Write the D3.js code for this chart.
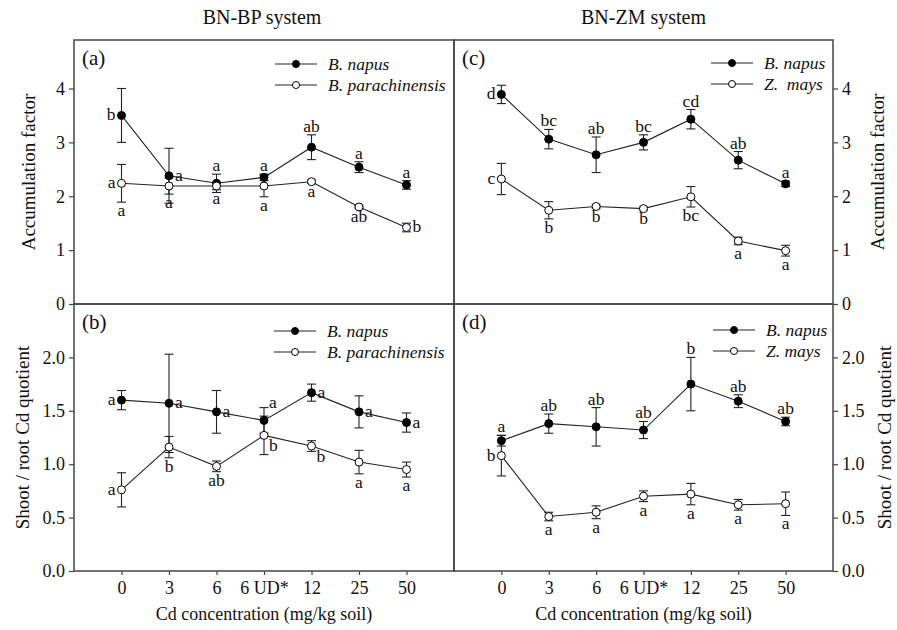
<!DOCTYPE html>
<html>
<head>
<meta charset="utf-8">
<script src="https://cdn.jsdelivr.net/npm/d3@7"></script>
<style>
  body { margin: 0; background: #fff; }
  text { font-family: "Liberation Serif", "Times New Roman", serif; fill: #111; white-space: pre; }
</style>
</head>
<body>
<svg></svg>
<script>
// categories on x
var categories = ["0", "3", "6", "6 UD*", "12", "25", "50"];

// (a) accumulation factor, BN-BP system
var accNapusBP = [3.5, 2.38, 2.24, 2.35, 2.91, 2.54, 2.21];
var accNapusBPErr = [0.5, 0.51, 0.17, 0.06, 0.23, 0.1, 0.08];
var accNapusBPLet = ["b", "a", "a", "a", "ab", "a", "a"];
var accNapusBPPos = ["l", "r", "t", "t", "t", "t", "t"];
var accParaBP = [2.24, 2.19, 2.19, 2.19, 2.27, 1.8, 1.42];
var accParaBPErr = [0.35, 0.15, 0.07, 0.2, 0.03, 0.02, 0.08];
var accParaBPLet = ["a", "a", "a", "a", "a", "ab", "b"];
var accParaBPPos = ["l,b", "b", "b", "b", "b", "b", "r"];

// (c) accumulation factor, BN-ZM system
var accNapusZM = [3.89, 3.06, 2.77, 3.0, 3.43, 2.67, 2.23];
var accNapusZMErr = [0.17, 0.18, 0.33, 0.14, 0.18, 0.16, 0.05];
var accNapusZMLet = ["d", "bc", "ab", "bc", "cd", "ab", "a"];
var accNapusZMPos = ["l", "t", "t", "t", "t", "t", "t"];
var accMaysZM = [2.32, 1.74, 1.81, 1.77, 1.99, 1.17, 0.99];
var accMaysZMErr = [0.29, 0.16, 0.03, 0.03, 0.19, 0.07, 0.1];
var accMaysZMLet = ["c", "b", "b", "b", "bc", "a", "a"];
var accMaysZMPos = ["l", "b", "b", "b", "b", "b", "b"];

// (b) shoot / root quotient, BN-BP system
var quoNapusBP = [1.6, 1.57, 1.49, 1.41, 1.67, 1.49, 1.39];
var quoNapusBPErr = [0.09, 0.46, 0.2, 0.12, 0.08, 0.15, 0.09];
var quoNapusBPLet = ["a", "a", "a", "a", "a", "a", "a"];
var quoNapusBPPos = ["l", "r", "r", "tr", "r", "r", "r"];
var quoParaBP = [0.76, 1.16, 0.98, 1.27, 1.17, 1.02, 0.95];
var quoParaBPErr = [0.16, 0.1, 0.05, 0.18, 0.05, 0.11, 0.07];
var quoParaBPLet = ["a", "b", "ab", "b", "b", "a", "a"];
var quoParaBPPos = ["l", "b", "b", "br", "br", "b", "b"];

// (d) shoot / root quotient, BN-ZM system
var quoNapusZM = [1.22, 1.38, 1.35, 1.32, 1.75, 1.59, 1.4];
var quoNapusZMErr = [0.05, 0.09, 0.18, 0.08, 0.25, 0.06, 0.04];
var quoNapusZMLet = ["a", "ab", "ab", "ab", "b", "ab", "ab"];
var quoNapusZMPos = ["t", "t", "t", "t", "t", "t", "t"];
var quoMaysZM = [1.08, 0.51, 0.55, 0.7, 0.72, 0.62, 0.63];
var quoMaysZMErr = [0.19, 0.04, 0.06, 0.05, 0.1, 0.05, 0.11];
var quoMaysZMLet = ["b", "a", "a", "a", "a", "a", "a"];
var quoMaysZMPos = ["l", "b", "b", "b", "b", "b", "b"];

var accTicks = [0, 1, 2, 3, 4];
var quoTicks = [0, 0.5, 1.0, 1.5, 2.0];

var width = 897, height = 630;
var xLeft = 74, xMid = 454, xRight = 833, yTop = 40, yMiddle = 304, yBottom = 571;

var svg = d3.select("svg").attr("width", width).attr("height", height);

function serie(vals, errs, lets, pos, name, filled) {
	return vals.map(function(v, i) {
		return { i: i, v: v, e: errs[i], l: lets[i], p: pos[i], name: name, filled: filled };
	});
}

var panels = [
	{ tag: "(a)", x0: xLeft, x1: xMid, y0: yTop, y1: yMiddle, max: 4.9, ticks: accTicks, fmt: d3.format("d"), side: "left", xaxis: false,
	  legX: 275, legY: 64,
	  series: [serie(accNapusBP, accNapusBPErr, accNapusBPLet, accNapusBPPos, "B. napus", true),
	           serie(accParaBP, accParaBPErr, accParaBPLet, accParaBPPos, "B. parachinensis", false)] },
	{ tag: "(b)", x0: xLeft, x1: xMid, y0: yMiddle, y1: yBottom, max: 2.5, ticks: quoTicks, fmt: d3.format(".1f"), side: "left", xaxis: true,
	  legX: 274, legY: 331,
	  series: [serie(quoNapusBP, quoNapusBPErr, quoNapusBPLet, quoNapusBPPos, "B. napus", true),
	           serie(quoParaBP, quoParaBPErr, quoParaBPLet, quoParaBPPos, "B. parachinensis", false)] },
	{ tag: "(c)", x0: xMid, x1: xRight, y0: yTop, y1: yMiddle, max: 4.9, ticks: accTicks, fmt: d3.format("d"), side: "right", xaxis: false,
	  legX: 711, legY: 63,
	  series: [serie(accNapusZM, accNapusZMErr, accNapusZMLet, accNapusZMPos, "B. napus", true),
	           serie(accMaysZM, accMaysZMErr, accMaysZMLet, accMaysZMPos, "Z.  mays", false)] },
	{ tag: "(d)", x0: xMid, x1: xRight, y0: yMiddle, y1: yBottom, max: 2.5, ticks: quoTicks, fmt: d3.format(".1f"), side: "right", xaxis: true,
	  legX: 713, legY: 330,
	  series: [serie(quoNapusZM, quoNapusZMErr, quoNapusZMLet, quoNapusZMPos, "B. napus", true),
	           serie(quoMaysZM, quoMaysZMErr, quoMaysZMLet, quoMaysZMPos, "Z. mays", false)] }
];

var ink = "#222";

panels.forEach(function(p) {
	var x = d3.scaleLinear().domain([-1, categories.length]).range([p.x0, p.x1]);
	var y = d3.scaleLinear().domain([0, p.max]).range([p.y1, p.y0]);
	var g = svg.append("g");

	// y axis
	var yAxis = (p.side == "left" ? d3.axisLeft(y) : d3.axisRight(y))
		.tickValues(p.ticks).tickFormat(p.fmt).tickSize(5).tickPadding(4);
	var ya = g.append("g")
		.attr("transform", "translate(" + (p.side == "left" ? p.x0 : p.x1) + ",0)")
		.call(yAxis);
	ya.select(".domain").remove();
	ya.selectAll("line").attr("stroke", "#444").attr("stroke-width", 1.2);
	ya.selectAll("text").attr("font-size", "18px").attr("font-family", "Liberation Serif").attr("fill", "#111");

	// x axis
	if (p.xaxis) {
		var xAxis = d3.axisBottom(x)
			.tickValues(d3.range(categories.length))
			.tickFormat(function(i) { return categories[i]; })
			.tickSize(4).tickPadding(6);
		var xa = g.append("g")
			.attr("transform", "translate(0," + p.y1 + ")")
			.call(xAxis);
		xa.select(".domain").remove();
		xa.selectAll("line").attr("stroke", "#444").attr("stroke-width", 1.2);
		xa.selectAll("text").attr("font-size", "18px").attr("font-family", "Liberation Serif").attr("fill", "#111");
	}

	// frame
	g.append("rect")
		.attr("x", p.x0).attr("y", p.y0)
		.attr("width", p.x1 - p.x0).attr("height", p.y1 - p.y0)
		.attr("fill", "none").attr("stroke", "#444").attr("stroke-width", 1.5);

	g.append("text")
		.attr("x", p.x0 + 8).attr("y", p.y0 + 25)
		.attr("font-size", "21px")
		.text(p.tag);

	var line = d3.line().x(function(d) { return x(d.i); }).y(function(d) { return y(d.v); });

	p.series.forEach(function(s) {
		g.append("path")
			.datum(s)
			.attr("d", line)
			.attr("fill", "none").attr("stroke", ink).attr("stroke-width", 1.1);

		var eb = g.append("g").selectAll("g").data(s).enter().append("g");
		eb.append("line")
			.attr("x1", function(d) { return x(d.i); }).attr("x2", function(d) { return x(d.i); })
			.attr("y1", function(d) { return y(d.v - d.e); }).attr("y2", function(d) { return y(d.v + d.e); })
			.attr("stroke", ink).attr("stroke-width", 1.1);
		[-1, 1].forEach(function(sg) {
			eb.append("line")
				.attr("x1", function(d) { return x(d.i) - 4.5; }).attr("x2", function(d) { return x(d.i) + 4.5; })
				.attr("y1", function(d) { return y(d.v + sg * d.e); }).attr("y2", function(d) { return y(d.v + sg * d.e); })
				.attr("stroke", ink).attr("stroke-width", 1.1);
		});
	});

	p.series.forEach(function(s) {
		g.append("g").selectAll("circle").data(s).enter().append("circle")
			.attr("cx", function(d) { return x(d.i); })
			.attr("cy", function(d) { return y(d.v); })
			.attr("r", 4)
			.attr("fill", function(d) { return d.filled ? "#000" : "#fff"; })
			.attr("stroke", "#000").attr("stroke-width", 1);

		// significance letters
		var lt = [];
		s.forEach(function(d) {
			d.p.split(",").forEach(function(pp) { lt.push({ d: d, p: pp }); });
		});
		g.append("g").selectAll("text").data(lt).enter().append("text")
			.attr("font-size", "17.5px")
			.attr("text-anchor", function(o) {
				if (o.p == "l") return "end";
				if (o.p == "r" || o.p == "tr" || o.p == "br") return "start";
				return "middle";
			})
			.attr("x", function(o) {
				var cx = x(o.d.i);
				if (o.p == "l") return cx - 6;
				if (o.p == "r") return cx + 6;
				if (o.p == "tr" || o.p == "br") return cx + 5;
				return cx;
			})
			.attr("y", function(o) {
				var d = o.d;
				if (o.p == "t") return y(d.v + d.e) - 3;
				if (o.p == "b") return y(d.v - d.e) + 14;
				if (o.p == "tr") return y(d.v) - 12;
				if (o.p == "br") return y(d.v) + 16;
				return y(d.v) + 5;
			})
			.text(function(o) { return o.d.l; });
	});

	// legend
	var leg = g.append("g").selectAll("g").data(p.series).enter().append("g")
		.attr("transform", function(s, k) { return "translate(" + p.legX + "," + (p.legY + k * 21) + ")"; });
	leg.append("line").attr("x1", 0).attr("x2", 42).attr("y1", 0).attr("y2", 0)
		.attr("stroke", ink).attr("stroke-width", 1.1);
	leg.append("circle").attr("cx", 21).attr("cy", 0).attr("r", 3.5)
		.attr("fill", function(s) { return s[0].filled ? "#000" : "#fff"; })
		.attr("stroke", "#000");
	leg.append("text").attr("x", 53).attr("y", 6)
		.attr("font-size", "17.5px").attr("font-style", "italic")
		.text(function(s) { return s[0].name; });
});

// titles
svg.append("text").attr("x", (xLeft + xMid) / 2 - 2).attr("y", 24).attr("text-anchor", "middle")
	.attr("font-size", "20px").text("BN-BP system");
svg.append("text").attr("x", (xMid + xRight) / 2).attr("y", 24).attr("text-anchor", "middle")
	.attr("font-size", "20px").text("BN-ZM system");

[(xLeft + xMid) / 2, (xMid + xRight) / 2].forEach(function(cx) {
	svg.append("text").attr("x", cx).attr("y", 620).attr("text-anchor", "middle")
		.attr("font-size", "18px").text("Cd concentration (mg/kg soil)");
});

// y titles: [text, centre y, left baseline x, right baseline x]
var ylabels = [["Accumulation factor", (yTop + yMiddle) / 2, 35, 884],
               ["Shoot / root Cd quotient", (yMiddle + yBottom) / 2, 29, 891]];
ylabels.forEach(function(l) {
	svg.append("text").attr("transform", "translate(" + l[2] + "," + l[1] + ") rotate(-90)")
		.attr("text-anchor", "middle").attr("font-size", "19px").text(l[0]);
	svg.append("text").attr("transform", "translate(" + l[3] + "," + l[1] + ") rotate(-90)")
		.attr("text-anchor", "middle").attr("font-size", "19px").text(l[0]);
});
</script>
</body>
</html>
